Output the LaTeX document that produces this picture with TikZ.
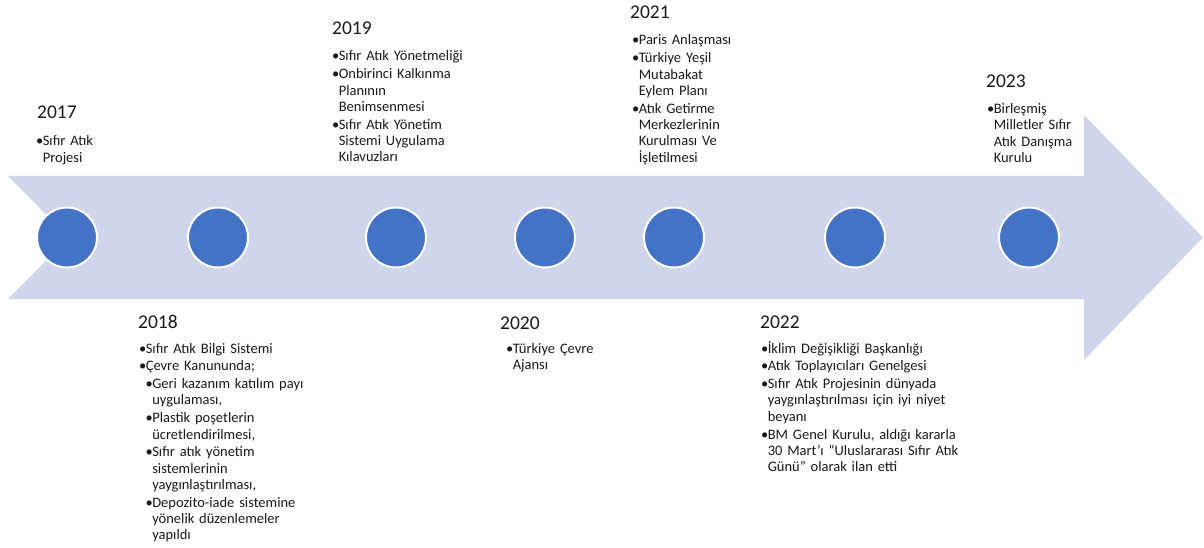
\documentclass[tikz,border=0pt]{standalone}
\usepackage{fontspec}
\setmainfont{Carlito}
\definecolor{arrowfill}{RGB}{207,213,234}
\definecolor{dotblue}{RGB}{68,114,196}
\definecolor{textgray}{RGB}{25,25,25}
\newcommand{\bul}{\makebox[5.6pt][l]{\hspace{-1.2pt}•}}
\newcommand{\cont}{\hspace*{5.6pt}}
\newcommand{\subind}{\hspace*{6.5pt}}
\tikzset{
  year label/.style={
    anchor=base west, inner sep=0pt, text=textgray,
    font=\fontsize{19.5}{23}\selectfont
  },
  event list/.style={
    anchor=base west, inner sep=0pt, text=textgray,
    text width=7cm, align=left,
    font=\fontsize{14.5}{16.3}\selectfont
  },
  year dot/.style={
    circle, fill=dotblue, draw=white, line width=2pt,
    minimum size=60pt, inner sep=0pt
  },
}

\begin{document}
\begin{tikzpicture}[x=1pt, y=-1pt]

  \useasboundingbox (0,0) rectangle (1204,548);

  % Timeline arrow
  \fill[arrowfill] (8,176) -- (1084,176) -- (1084,115) -- (1203,237.5)
    -- (1084,360) -- (1084,299) -- (8,299) -- (69,237.5) -- cycle;

  % Dots
  \node[year dot] (dot2017) at (67,237.5) {};
  \node[year dot] (dot2018) at (218,237.5) {};
  \node[year dot] (dot2019) at (396,237.5) {};
  \node[year dot] (dot2020) at (545,237.5) {};
  \node[year dot] (dot2021) at (674,237.5) {};
  \node[year dot] (dot2022) at (855,237.5) {};
  \node[year dot] (dot2023) at (1029,237.5) {};

  % 2017
  \node[year label] (yr2017) at (37,119) {2017};
  \node[event list] (ev2017) at (37,146)
    {\bul Sıfır Atık\\\cont Projesi};

  % 2018
  \node[year label] (yr2018) at (138,328) {2018};
  \node[event list] (ev2018) at (140,353)
    {\bul Sıfır Atık Bilgi Sistemi\\[1.5pt]
     \bul Çevre Kanununda;\\[1.5pt]
     \subind\bul Geri kazanım katılım payı\\
     \subind\cont uygulaması,\\[1.5pt]
     \subind\bul Plastik poşetlerin\\
     \subind\cont ücretlendirilmesi,\\[1.5pt]
     \subind\bul Sıfır atık yönetim\\
     \subind\cont sistemlerinin\\
     \subind\cont yaygınlaştırılması,\\[1.5pt]
     \subind\bul Depozito-iade sistemine\\
     \subind\cont yönelik düzenlemeler\\
     \subind\cont yapıldı};

  % 2019
  \node[year label] (yr2019) at (332,35) {2019};
  \node[event list] (ev2019) at (333,61)
    {\bul Sıfır Atık Yönetmeliği\\[1.5pt]
     \bul Onbirinci Kalkınma\\\cont Planının\\\cont Benimsenmesi\\[1.5pt]
     \bul Sıfır Atık Yönetim\\\cont Sistemi Uygulama\\\cont Kılavuzları};

  % 2020
  \node[year label] (yr2020) at (500,329) {2020};
  \node[event list] (ev2020) at (507,353)
    {\bul Türkiye Çevre\\\cont Ajansı};

  % 2021
  \node[year label] (yr2021) at (630,18.5) {2021};
  \node[event list] (ev2021) at (633,45)
    {\bul Paris Anlaşması\\[1.5pt]
     \bul Türkiye Yeşil\\\cont Mutabakat\\\cont Eylem Planı\\[1.5pt]
     \bul Atık Getirme\\\cont Merkezlerinin\\\cont Kurulması Ve\\\cont İşletilmesi};

  % 2022
  \node[year label] (yr2022) at (760,328) {2022};
  \node[event list] (ev2022) at (762,353)
    {\bul İklim Değişikliği Başkanlığı\\[1.5pt]
     \bul Atık Toplayıcıları Genelgesi\\[1.5pt]
     \bul Sıfır Atık Projesinin dünyada\\\cont yaygınlaştırılması için iyi niyet\\\cont beyanı\\[1.5pt]
     \bul BM Genel Kurulu, aldığı kararla\\\cont 30 Mart’ı “Uluslararası Sıfır Atık\\\cont Günü” olarak ilan etti};

  % 2023
  \node[year label] (yr2023) at (986,87.5) {2023};
  \node[event list] (ev2023) at (988,113.5)
    {\bul Birleşmiş\\\cont Milletler Sıfır\\\cont Atık Danışma\\\cont Kurulu};

\end{tikzpicture}
\end{document}
